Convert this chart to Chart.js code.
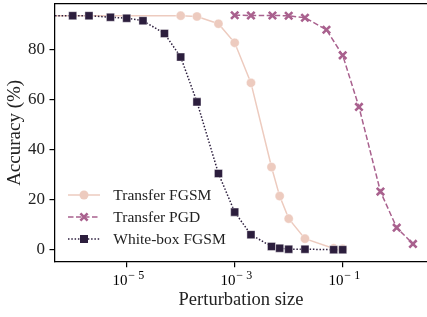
<!DOCTYPE html>
<html>
<head>
<meta charset="utf-8">
<script src="https://cdn.jsdelivr.net/npm/chart.js"></script>
<style>
  body { margin: 0; background: #fff; }
  #wrap { width: 427px; height: 317px; position: relative; }
</style>
</head>
<body>
<div id="wrap"><canvas id="acc-chart"></canvas></div>
<script>
// perturbation sizes (log x) and accuracies
const wbEps = [1e-7, 1e-6, 2e-6, 5e-6, 1e-5, 2e-5, 5e-5, 1e-4, 2e-4, 5e-4, 1e-3, 2e-3, 4.8e-3, 6.8e-3, 1e-2, 2e-2, 6.8e-2, 1e-1];
const wbAcc = [93.4, 93.4, 93.4, 92.8, 92.4, 91.4, 86.3, 76.9, 59.0, 30.4, 15.0, 6.0, 1.3, 0.6, 0.2, 0.2, 0.0, 0.0];
const fgsmEps = [1e-7, 1e-4, 2e-4, 5e-4, 1e-3, 2e-3, 4.8e-3, 6.8e-3, 1e-2, 2e-2, 6.8e-2, 1e-1];
const fgsmAcc = [93.4, 93.4, 93.1, 90.2, 82.6, 66.6, 33.0, 21.4, 12.4, 4.4, 0.5, 0.3];
const pgdEps = [1e-3, 2e-3, 5e-3, 1e-2, 2e-2, 5e-2, 1e-1, 2e-1, 5e-1, 1, 2];
const pgdAcc = [93.6, 93.5, 93.5, 93.4, 92.6, 87.8, 77.6, 57.0, 23.2, 8.8, 2.3];
const seriesNames = ['Transfer FGSM', 'Transfer PGD', 'White-box FGSM'];
const xTickValues = [1e-5, 1e-3, 1e-1];
const xTickExps = ['5', '3', '1'];
const yTickValues = [0, 20, 40, 60, 80];

const SERIF = '"Liberation Serif", "Times New Roman", serif';
const colFgsm = '#edcbbf';
const colPgd = '#a9618e';
const colWb = '#2c1e3d';

function pts(xs, ys) { return xs.map((x, i) => ({ x: x, y: ys[i] })); }
function noPad(s) { s.paddingTop = 0; s.paddingBottom = 0; s.paddingLeft = 0; s.paddingRight = 0; }

// x tick labels as 10^-n, and the legend with line + marker
const extrasPlugin = {
  id: 'extras',
  afterDraw(chart) {
    const ctx = chart.ctx;
    const xs = chart.scales.x;
    ctx.save();
    ctx.fillStyle = '#000';
    ctx.textBaseline = 'alphabetic';
    xTickValues.forEach((v, i) => {
      const px = xs.getPixelForValue(v);
      ctx.font = '15px ' + SERIF;
      ctx.textAlign = 'right';
      ctx.fillText('10', px + 0.8, xs.top + 23);
      ctx.font = '12px ' + SERIF;
      ctx.textAlign = 'left';
      ctx.fillText('\u2212', px + 1.5, xs.top + 17);
      ctx.fillText(xTickExps[i], px + 11.5, xs.top + 17);
    });

    const rows = [
      { c: colFgsm, dash: [], mk: 'circle' },
      { c: colPgd, dash: [5.5, 2.5], mk: 'x' },
      { c: colWb, dash: [1.5, 1.8], mk: 'rect' }
    ];
    rows.forEach((r, i) => {
      const y = 195 + i * 22;
      ctx.strokeStyle = r.c;
      ctx.lineWidth = 1.5;
      ctx.setLineDash(r.dash);
      ctx.beginPath();
      ctx.moveTo(68, y);
      ctx.lineTo(100, y);
      ctx.stroke();
      ctx.setLineDash([]);
      const mx = 84;
      if (r.mk === 'circle') {
        ctx.fillStyle = r.c;
        ctx.beginPath();
        ctx.arc(mx, y, 4.5, 0, Math.PI * 2);
        ctx.fill();
      } else if (r.mk === 'x') {
        ctx.lineWidth = 2.6;
        ctx.beginPath();
        ctx.moveTo(mx - 3.6, y - 3.6); ctx.lineTo(mx + 3.6, y + 3.6);
        ctx.moveTo(mx - 3.6, y + 3.6); ctx.lineTo(mx + 3.6, y - 3.6);
        ctx.stroke();
      } else {
        ctx.fillStyle = r.c;
        ctx.fillRect(mx - 4, y - 4, 8, 8);
      }
      ctx.fillStyle = '#222';
      ctx.font = '15.5px ' + SERIF;
      ctx.textAlign = 'left';
      ctx.textBaseline = 'middle';
      ctx.fillText(seriesNames[i], 113.3, y + 0.5);
    });
    ctx.restore();
  }
};

new Chart(document.getElementById('acc-chart'), {
  type: 'line',
  data: {
    datasets: [
      {
        label: seriesNames[0], data: pts(fgsmEps, fgsmAcc), order: 3,
        borderColor: colFgsm, backgroundColor: colFgsm, borderWidth: 1.5,
        pointStyle: 'circle', pointRadius: 4.6, pointBackgroundColor: colFgsm,
        pointBorderColor: 'rgba(255,255,255,0.7)', pointBorderWidth: 0.6
      },
      {
        label: seriesNames[1], data: pts(pgdEps, pgdAcc), order: 2,
        borderColor: colPgd, backgroundColor: colPgd, borderWidth: 1.5, borderDash: [5.5, 2.5],
        pointStyle: 'crossRot', pointRadius: 5.2, pointBorderColor: colPgd, pointBorderWidth: 2.6
      },
      {
        label: seriesNames[2], data: pts(wbEps, wbAcc), order: 1,
        borderColor: colWb, backgroundColor: colWb, borderWidth: 1.5, borderDash: [1.5, 1.8],
        pointStyle: 'rect', pointRadius: 5.7, pointBackgroundColor: colWb,
        pointBorderColor: 'rgba(255,255,255,0.6)', pointBorderWidth: 0.7
      }
    ]
  },
  options: {
    responsive: true,
    maintainAspectRatio: false,
    animation: false,
    layout: { padding: 0, autoPadding: false },
    plugins: { legend: { display: false }, tooltip: { enabled: false } },
    elements: { line: { tension: 0 } },
    scales: {
      x: {
        type: 'logarithmic',
        position: 'bottom',
        min: 4.7e-7,
        max: 3.64,
        afterBuildTicks: s => { s.ticks = xTickValues.map(v => ({ value: v })); },
        afterFit: s => { s.height = 55.3; noPad(s); },
        ticks: { callback: () => '', font: { family: SERIF, size: 15 } },
        grid: { drawOnChartArea: false, drawTicks: true, tickLength: 5.5, tickColor: '#000', lineWidth: 1.2 },
        border: { display: true, color: '#000', width: 1.25 },
        title: {
          display: true, text: 'Perturbation size', color: '#222',
          font: { family: SERIF, size: 18.5 }, padding: { top: 0, bottom: 6 }
        }
      },
      xTop: {
        type: 'linear',
        position: 'top',
        min: 0, max: 1,
        afterFit: s => { s.height = 4; noPad(s); },
        ticks: { display: false },
        grid: { display: false },
        border: { display: true, color: '#000', width: 1.25 }
      },
      y: {
        type: 'linear',
        min: -4.79,
        max: 98.08,
        afterBuildTicks: s => { s.ticks = yTickValues.map(v => ({ value: v })); },
        afterFit: s => { s.width = 55; noPad(s); },
        ticks: { color: '#222', padding: 4.5, font: { family: SERIF, size: 17 } },
        grid: { drawOnChartArea: false, drawTicks: true, tickLength: 5.5, tickColor: '#000', lineWidth: 1.2 },
        border: { display: true, color: '#000', width: 1.25 },
        title: {
          display: true, text: 'Accuracy (%)', color: '#222',
          font: { family: SERIF, size: 19 }, padding: { top: 4, bottom: 0 }
        }
      }
    }
  },
  plugins: [extrasPlugin]
});
</script>
</body>
</html>
